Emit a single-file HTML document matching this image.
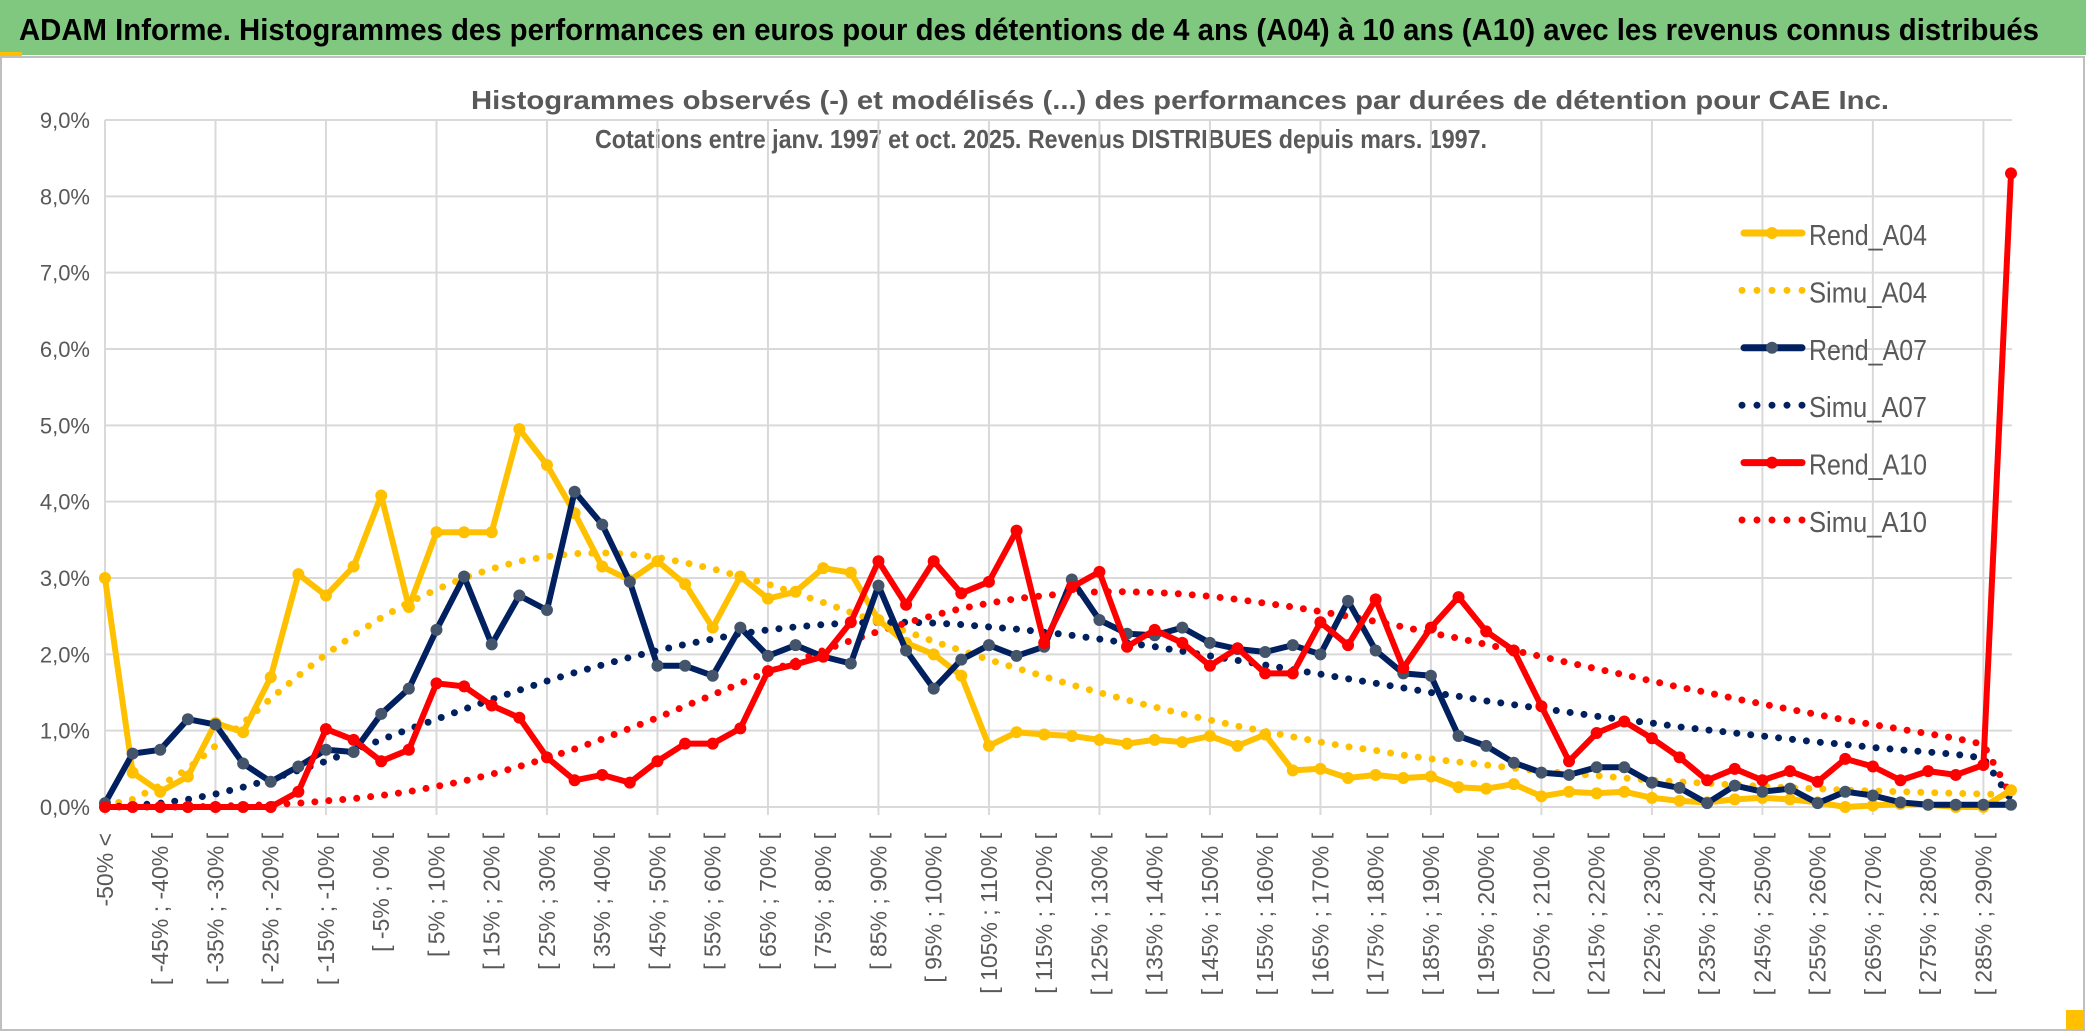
<!DOCTYPE html>
<html><head><meta charset="utf-8"><style>
html,body{margin:0;padding:0;background:#fff;}
svg{display:block;font-family:"Liberation Sans Narrow","Liberation Sans",sans-serif;}
</style></head><body>
<svg id="c" width="2086" height="1033" viewBox="0 0 2086 1033">
<rect x="0" y="0" width="2086" height="1033" fill="#fff"/>
<rect x="0" y="0" width="2086" height="55" fill="#80C77F"/>
<rect x="0" y="52" width="22" height="4" fill="#FFC000"/>
<text x="1029" y="40" text-anchor="middle" font-size="31" font-weight="bold" fill="#000" textLength="2020" lengthAdjust="spacingAndGlyphs">ADAM Informe. Histogrammes des performances en euros pour des détentions de 4 ans (A04) à 10 ans (A10) avec les revenus connus distribués</text>
<rect x="1" y="57" width="2083" height="973" fill="none" stroke="#bfbfbf" stroke-width="2"/>
<rect x="2066" y="1010" width="18" height="20" fill="#FFC000"/>
<text x="1180" y="109" text-anchor="middle" font-size="26" font-weight="bold" fill="#595959" textLength="1418" lengthAdjust="spacingAndGlyphs">Histogrammes observés (-) et modélisés (...) des performances par durées de détention pour CAE Inc.</text>
<text x="1041" y="148" text-anchor="middle" font-size="26" font-weight="bold" fill="#595959" textLength="892" lengthAdjust="spacingAndGlyphs">Cotations entre janv. 1997 et oct. 2025. Revenus DISTRIBUES depuis mars. 1997.</text>
<g id="grid"></g><g id="yax"></g><g id="xax"></g><g id="series"></g><g id="legend"></g>
</svg>
<script>
const categories = ["-50% <"];
for (let k = 0; k < 69; k++) categories.push("[ " + (-50 + 5 * k) + "% ; " + (-45 + 5 * k) + "% [");
const yTicks = [0,1,2,3,4,5,6,7,8,9];
const rendA04 = [3.0,0.45,0.2,0.4,1.1,0.98,1.7,3.05,2.77,3.15,4.08,2.62,3.6,3.6,3.6,4.95,4.48,3.85,3.15,2.97,3.22,2.92,2.35,3.02,2.73,2.82,3.13,3.07,2.45,2.15,2.0,1.72,0.8,0.98,0.95,0.93,0.88,0.83,0.88,0.85,0.93,0.8,0.95,0.48,0.5,0.38,0.42,0.38,0.4,0.26,0.24,0.3,0.14,0.2,0.18,0.2,0.12,0.08,0.06,0.1,0.12,0.1,0.06,0.0,0.02,0.04,0.03,0.0,0.0,0.22];
const simuA04 = [0.02,0.1,0.28,0.5,0.8,1.1,1.42,1.72,2.0,2.25,2.48,2.68,2.85,3.0,3.12,3.22,3.28,3.32,3.33,3.31,3.27,3.2,3.12,3.02,2.92,2.8,2.68,2.55,2.42,2.3,2.17,2.05,1.93,1.82,1.71,1.6,1.5,1.4,1.31,1.22,1.14,1.06,0.99,0.92,0.85,0.79,0.74,0.68,0.63,0.59,0.55,0.51,0.47,0.44,0.41,0.38,0.35,0.33,0.31,0.29,0.27,0.25,0.24,0.22,0.21,0.2,0.19,0.18,0.17,0.16];
const rendA07 = [0.05,0.7,0.75,1.15,1.08,0.57,0.33,0.53,0.75,0.72,1.22,1.55,2.32,3.02,2.13,2.77,2.58,4.13,3.7,2.95,1.85,1.85,1.72,2.35,1.98,2.12,1.97,1.88,2.9,2.05,1.55,1.93,2.12,1.98,2.1,2.98,2.45,2.27,2.25,2.35,2.15,2.07,2.03,2.12,2.0,2.7,2.05,1.75,1.72,0.93,0.8,0.58,0.45,0.42,0.52,0.52,0.32,0.25,0.05,0.28,0.2,0.24,0.05,0.2,0.15,0.06,0.03,0.03,0.03,0.03];
const simuA07 = [0,0.02,0.05,0.1,0.17,0.26,0.36,0.48,0.6,0.74,0.88,1.02,1.15,1.28,1.41,1.53,1.65,1.76,1.86,1.96,2.05,2.13,2.2,2.27,2.32,2.36,2.39,2.41,2.42,2.42,2.41,2.39,2.36,2.33,2.29,2.25,2.2,2.15,2.1,2.04,1.98,1.92,1.86,1.8,1.74,1.68,1.62,1.56,1.5,1.45,1.39,1.34,1.29,1.24,1.19,1.14,1.1,1.05,1.01,0.97,0.93,0.89,0.85,0.82,0.78,0.75,0.72,0.69,0.64,0.1];
const rendA10 = [0,0,0,0,0,0,0,0.2,1.02,0.88,0.6,0.75,1.62,1.58,1.33,1.17,0.65,0.35,0.42,0.32,0.6,0.83,0.83,1.03,1.78,1.87,1.97,2.42,3.22,2.65,3.22,2.8,2.95,3.62,2.15,2.88,3.08,2.1,2.32,2.15,1.85,2.08,1.75,1.75,2.42,2.12,2.72,1.82,2.35,2.75,2.3,2.05,1.32,0.6,0.97,1.12,0.9,0.65,0.35,0.5,0.35,0.47,0.33,0.63,0.53,0.35,0.47,0.42,0.55,8.3];
const simuA10 = [0,0,0,0,0.01,0.02,0.03,0.05,0.08,0.11,0.15,0.2,0.27,0.34,0.43,0.53,0.64,0.76,0.89,1.03,1.17,1.32,1.47,1.62,1.77,1.91,2.05,2.18,2.3,2.41,2.51,2.6,2.67,2.73,2.77,2.8,2.82,2.82,2.81,2.79,2.76,2.72,2.67,2.62,2.56,2.5,2.43,2.36,2.28,2.21,2.13,2.05,1.97,1.89,1.81,1.73,1.65,1.57,1.5,1.42,1.35,1.28,1.21,1.14,1.08,1.02,0.96,0.9,0.82,0.15];

const NS = "http://www.w3.org/2000/svg";
const X0 = 105, X1 = 2011, Y0 = 807, Y9 = 120;
const xs = i => X0 + i * (X1 - X0) / (categories.length - 1);
const ys = v => Y0 - v * (Y0 - Y9) / 9;
function mk(tag, attrs, parent){const e=document.createElementNS(NS,tag);for(const k in attrs)e.setAttribute(k,attrs[k]);parent.appendChild(e);return e;}
const grid=document.getElementById('grid'), yax=document.getElementById('yax'), xax=document.getElementById('xax'), ser=document.getElementById('series'), leg=document.getElementById('legend');
yTicks.forEach(t=>{
  const l=mk('line',{x1:X0,x2:2012,y1:ys(t),y2:ys(t),stroke:'#d9d9d9','stroke-width':2},grid);
  
  
  const tx=mk('text',{x:90,y:ys(t)+8,'text-anchor':'end','font-size':22,fill:'#595959'},yax);
  tx.textContent=t.toFixed(1).replace('.',',')+'%';
  
  
});
for(let i=0;i<categories.length;i+=4){
  const l=mk('line',{x1:xs(i),x2:xs(i),y1:Y9,y2:Y0+8,stroke:'#d9d9d9','stroke-width':2},grid);
  
  
}
categories.forEach((c,i)=>{
  if(i%2) return;
  const x=xs(i)+8, y=833;
  const tx=mk('text',{x:x,y:y,'text-anchor':'end','font-size':23,fill:'#595959',transform:`rotate(-90 ${x} ${y})`},xax);
  tx.textContent=c;
  
  
});
function pts(arr){return arr.map((v,i)=>xs(i).toFixed(1)+','+ys(v).toFixed(1)).join(' ');}
function dotted(arr,color,name){
  const p=mk('polyline',{points:pts(arr),fill:'none',stroke:color,'stroke-width':7,'stroke-linecap':'round','stroke-dasharray':'0 14'},ser);
  
  
}
function solid(arr,color,mfill,name){
  const g=mk('g',{},ser);
  
  
  mk('polyline',{points:pts(arr),fill:'none',stroke:color,'stroke-width':6,'stroke-linejoin':'round'},g);
  arr.forEach((v,i)=>{
    const c=mk('circle',{cx:xs(i),cy:ys(v),r:6,fill:mfill},g);
    
    
  });
}
dotted(simuA04,'#FFC000','simu-a04-line');
dotted(simuA07,'#002060','simu-a07-line');
dotted(simuA10,'#FF0000','simu-a10-line');
solid(rendA04,'#FFC000','#FFC000','rend-a04-line');
solid(rendA07,'#002060','#44546A','rend-a07-line');
solid(rendA10,'#FF0000','#FF0000','rend-a10-line');
const legItems=[['Rend_A04','#FFC000','#FFC000',false],['Simu_A04','#FFC000',null,true],['Rend_A07','#002060','#44546A',false],['Simu_A07','#002060',null,true],['Rend_A10','#FF0000','#FF0000',false],['Simu_A10','#FF0000',null,true]];
legItems.forEach((it,k)=>{
  const y=233+k*57.4;
  const g=mk('g',{},leg);
  
  
  if(it[3]){
    mk('line',{x1:1742,x2:1805,y1:y,y2:y,stroke:it[1],'stroke-width':7,'stroke-linecap':'round','stroke-dasharray':'0 15'},g);
  } else {
    mk('line',{x1:1744,x2:1802,y1:y,y2:y,stroke:it[1],'stroke-width':7,'stroke-linecap':'round'},g);
    mk('circle',{cx:1772,cy:y,r:6,fill:it[2]},g);
  }
  const t=mk('text',{x:1809,y:y+12,'font-size':29,fill:'#595959',textLength:118,lengthAdjust:'spacingAndGlyphs'},g);
  t.textContent=it[0];
});
</script>
</body></html>
